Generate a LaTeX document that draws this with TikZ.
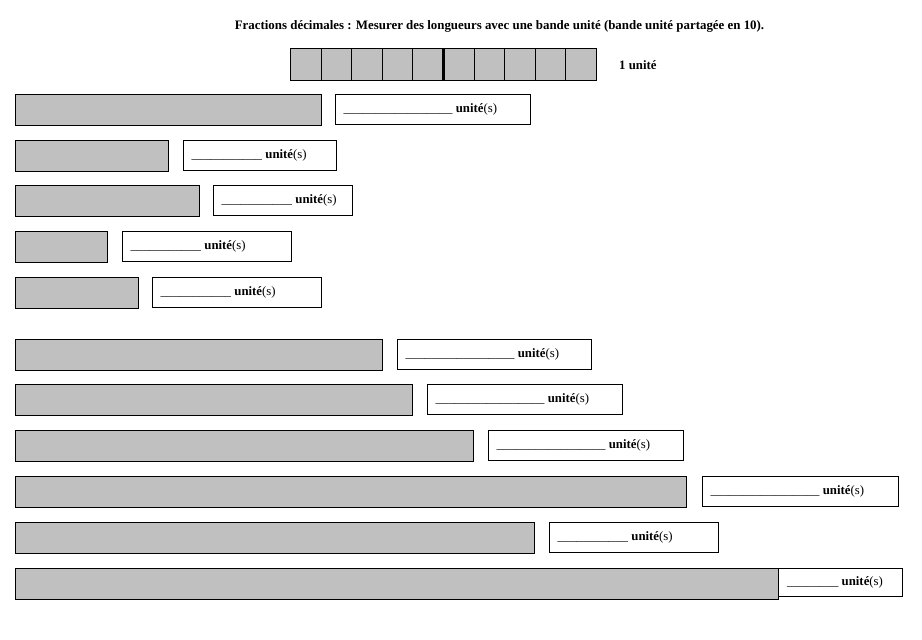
\documentclass[tikz,border=0pt]{standalone}
\usepackage{fontspec}
\setmainfont{Liberation Serif}
\definecolor{barGray}{HTML}{C0C0C0}
\begin{document}
\begin{tikzpicture}[x=1pt,y=-1pt,
  bar/.style={draw=black, fill=barGray, line width=1.2pt, inner sep=0pt, minimum height=31pt, anchor=north west},
  ansbox/.style={draw=black, fill=white, line width=1.1pt, inner sep=0pt, minimum height=30pt, anchor=north west},
  anstext/.style={anchor=west, inner sep=0pt, font=\fontsize{12.8}{15}\selectfont},
  cell/.style={draw=black, fill=barGray, line width=1pt, inner sep=0pt, minimum width=30.6pt, minimum height=32pt, anchor=north west},
  ttl/.style={inner sep=0pt, font=\bfseries\fontsize{12.9}{15}\selectfont}]
\useasboundingbox (0,0) rectangle (922,640);
% title
\node[ttl] (title) at (499.5,26) {Fractions décimales : Mesurer des longueurs avec une bande unité (bande unité partagée en 10).};
% unit band
\foreach \i in {0,...,9} {
  \node[cell] (c\i) at ({290+30.6*\i},48) {};
}
\draw[line width=3pt] (c5.north west) -- (c5.south west);
\node[anstext, font=\bfseries\fontsize{12.8}{15}\selectfont] (unitlbl) at (619,65) {1 unité};
% rows: y, bar length, box left, box width, underscores
\newcommand{\ansrow}[6]{%
  \node[bar, minimum width=#2pt] (bar#6) at (15,#1) {};
  \node[ansbox, minimum width=#4pt] (box#6) at (#3,#1) {};
  \node[anstext] (txt#6) at ([xshift=8.5pt]box#6.west) {#5 \textbf{unité}(s)};
}
\ansrow{94}{306}{335}{195}{\_\_\_\_\_\_\_\_\_\_\_\_\_\_\_\_\_}{1}
\ansrow{140}{153}{183}{153}{\_\_\_\_\_\_\_\_\_\_\_}{2}
\ansrow{185}{184}{213}{139}{\_\_\_\_\_\_\_\_\_\_\_}{3}
\ansrow{231}{92}{122}{169}{\_\_\_\_\_\_\_\_\_\_\_}{4}
\ansrow{277}{123}{152}{169}{\_\_\_\_\_\_\_\_\_\_\_}{5}
\ansrow{339}{367}{397}{194}{\_\_\_\_\_\_\_\_\_\_\_\_\_\_\_\_\_}{6}
\ansrow{384}{397}{427}{195}{\_\_\_\_\_\_\_\_\_\_\_\_\_\_\_\_\_}{7}
\ansrow{430}{458}{488}{195}{\_\_\_\_\_\_\_\_\_\_\_\_\_\_\_\_\_}{8}
\ansrow{476}{671}{702}{196}{\_\_\_\_\_\_\_\_\_\_\_\_\_\_\_\_\_}{9}
\ansrow{522}{519}{549}{169}{\_\_\_\_\_\_\_\_\_\_\_}{10}
\node[bar, minimum width=763pt] (bar11) at (15,568) {};
\node[ansbox, minimum width=124pt, minimum height=28pt] (box11) at (778,568) {};
\node[anstext] (txt11) at ([xshift=9pt]box11.west) {\_\_\_\_\_\_\_\_ \textbf{unité}(s)};
\end{tikzpicture}
\end{document}
